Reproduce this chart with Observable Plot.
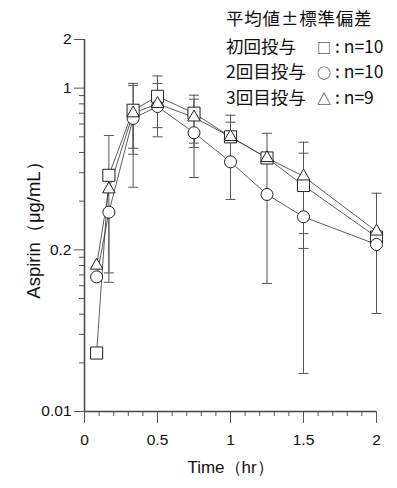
<!DOCTYPE html>
<html><head><meta charset="utf-8">
<script src="https://cdn.jsdelivr.net/npm/d3@7"></script>
<script src="https://cdn.jsdelivr.net/npm/@observablehq/plot@0.6"></script>
<style>
body{margin:0;background:#fff;}
#wrap{position:relative;width:397px;height:488px;}
#wrap svg text{font-size:15.5px;fill:#111;}
#wrap svg g[aria-label="x-axis label"] text{font-size:17px;}
#wrap svg g[aria-label="y-axis label"] text{font-size:18.5px;}
.lg{position:absolute;font-family:"Noto Sans CJK JP","Noto Sans CJK SC",sans-serif;font-size:17.5px;line-height:20px;color:#111;white-space:pre;transform:translateY(-50%);}
.sym{font-size:14px;}
</style></head><body><div id="wrap"></div>
<script>
// ---- data ----
const times = [0.083, 0.167, 0.333, 0.5, 0.75, 1, 1.25, 1.5, 2];
const seriesNames = ["初回投与", "2回目投与", "3回目投与"];
const seriesSymbols = ["□", "○", "△"];
const seriesN = ["n=10", "n=10", "n=9"];
const legendTitle = "平均値±標準偏差";

const mean1 = [0.023, 0.289, 0.73, 0.89, 0.70, 0.50, 0.37, 0.25, 0.12];
const mean2 = [0.068, 0.171, 0.65, 0.77, 0.53, 0.35, 0.22, 0.16, 0.108];
const mean3 = [0.080, 0.237, 0.70, 0.80, 0.66, 0.50, 0.37, 0.285, 0.13];

const lo1 = [null, 0.072, 0.39, 0.57, 0.457, null, null, 0.102, null];
const hi1 = [null, 0.51, 1.07, 1.19, 0.905, 0.68, 0.526, 0.396, null];
const lo2 = [null, 0.063, 0.244, 0.50, 0.28, 0.205, 0.062, 0.0172, 0.0404];
const hi2 = [null, null, 1.04, 1.07, null, 0.50, 0.37, null, null];
const lo3 = [null, null, 0.425, null, 0.43, null, null, 0.126, null];
const hi3 = [null, null, null, null, 0.855, 0.616, null, 0.463, 0.224];

const yTicks = [0.01, 0.1, 1, 2];
const yTickLabels = ["0.01", "0.2", "1", "2"];
const yMinor = [0.02,0.03,0.04,0.05,0.06,0.07,0.08,0.09,0.2,0.3,0.4,0.5,0.6,0.7,0.8,0.9];
const xTicks = [0, 0.5, 1, 1.5, 2];
const xTickLabels = ["0", "0.5", "1", "1.5", "2"];
const xMinor = [0.1,0.2,0.3,0.4,0.6,0.7,0.8,0.9,1.1,1.2,1.3,1.4,1.6,1.7,1.8,1.9];
const xLabel = "Time（hr）";
const yLabel = "Aspirin（μg/mL）";

// ---- build tables ----
const means = [mean1, mean2, mean3];
const los = [lo1, lo2, lo3];
const his = [hi1, hi2, hi3];
const pts = [], bars = [], caps = [];
means.forEach((m, s) => {
  times.forEach((t, i) => {
    pts.push({t, v: m[i], s});
    const L = los[s][i], H = his[s][i];
    if (L == null && H == null) return;
    bars.push({t, lo: L ?? m[i], hi: H ?? m[i]});
    if (L != null) caps.push({t, v: L});
    if (H != null) caps.push({t, v: H});
  });
});
const capSymbol = {draw(ctx) { ctx.moveTo(-5, 0); ctx.lineTo(5, 0); }};
const ink = "#222";
const axisInk = "#555";

const plot = Plot.plot({
  width: 397, height: 488,
  marginLeft: 84, marginRight: 21, marginTop: 39, marginBottom: 77,
  style: {fontFamily: '"Liberation Sans", Arial, sans-serif', fontSize: "15px", color: "#111", background: "#fff"},
  x: {domain: [0, 2]},
  y: {type: "log", domain: [0.01, 2]},
  marks: [
    Plot.axisY(yMinor, {tickSize: 5, tickFormat: () => "", label: null, stroke: axisInk}),
    Plot.axisY(yTicks, {tickSize: 10, tickPadding: 3, stroke: axisInk,
      tickFormat: d => yTickLabels[yTicks.indexOf(d)],
      label: yLabel, labelAnchor: "center", labelArrow: "none", labelOffset: 58}),
    Plot.axisX(xMinor, {tickSize: 5, tickFormat: () => "", label: null, stroke: axisInk}),
    Plot.axisX(xTicks, {tickSize: 12, tickPadding: 10, stroke: axisInk,
      tickFormat: d => xTickLabels[xTicks.indexOf(d)],
      label: xLabel, labelAnchor: "center", labelArrow: "none", labelOffset: 61}),
    Plot.ruleX([0], {stroke: "#444", strokeWidth: 1.5}),
    Plot.ruleY([0.01], {stroke: "#444", strokeWidth: 1.5}),
    Plot.ruleX(bars, {x: "t", y1: "lo", y2: "hi", stroke: axisInk, strokeWidth: 1}),
    Plot.dot(caps, {x: "t", y: "v", symbol: capSymbol, r: 5, stroke: axisInk, fill: "none", strokeWidth: 1}),
    Plot.line(pts, {x: "t", y: "v", z: "s", stroke: "#333", strokeWidth: 0.8}),
    Plot.dot(pts.filter(d => d.s === 0), {x: "t", y: "v", symbol: "square2", r: 7.7, stroke: ink, fill: "white", strokeWidth: 1}),
    Plot.dot(pts.filter(d => d.s === 1), {x: "t", y: "v", symbol: "circle", r: 6, stroke: ink, fill: "white", strokeWidth: 1}),
    Plot.dot(pts.filter(d => d.s === 2), {x: "t", y: "v", symbol: "triangle2", r: 6, stroke: ink, fill: "white", strokeWidth: 1})
  ]
});
const wrap = document.getElementById("wrap");
wrap.appendChild(plot);

// legend
const addText = (html, x, y) => {
  const d = document.createElement("div");
  d.className = "lg"; d.innerHTML = html;
  d.style.left = x + "px"; d.style.top = y + "px";
  wrap.appendChild(d);
  return d;
};
addText(legendTitle, 226, 18).style.letterSpacing = "0.8px";
const ys = [46, 71, 97];
seriesNames.forEach((n, i) => {
  addText(n, 226, ys[i]);
  addText('<span class="sym">' + seriesSymbols[i] + '</span> : ' + seriesN[i], 317, ys[i]);
});
</script></body></html>
